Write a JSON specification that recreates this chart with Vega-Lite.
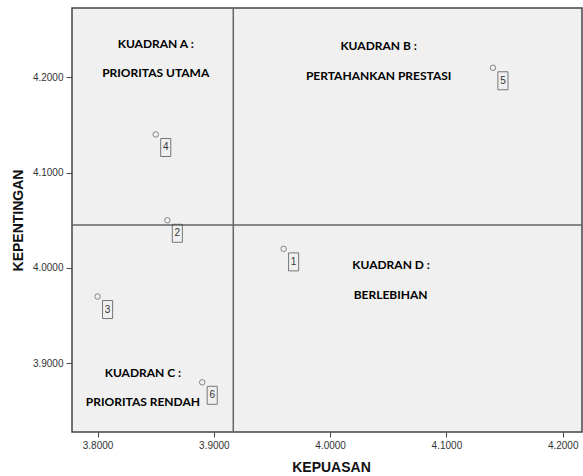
{
  "$schema": "https://vega.github.io/schema/vega-lite/v6.json",
  "width": 510,
  "height": 424,
  "autosize": {"type": "none"},
  "padding": {"left": 72, "top": 8, "right": 1, "bottom": 44},
  "background": "white",
  "config": {
    "view": {"fill": "#f0f0f0", "stroke": "#444", "strokeWidth": 1.5},
    "axis": {"grid": false, "domain": false, "labelFont": "Liberation Sans", "labelFontSize": 10, "labelColor": "#333", "tickColor": "#444", "titleFont": "Liberation Sans", "titleFontSize": 14, "titleFontWeight": "bold", "titleColor": "#111"}
  },
  "datasets": {
    "points": [
      {"id": "1", "kepuasan": 3.96, "kepentingan": 4.02},
      {"id": "2", "kepuasan": 3.86, "kepentingan": 4.05},
      {"id": "3", "kepuasan": 3.80, "kepentingan": 3.97},
      {"id": "4", "kepuasan": 3.85, "kepentingan": 4.14},
      {"id": "5", "kepuasan": 4.14, "kepentingan": 4.21},
      {"id": "6", "kepuasan": 3.89, "kepentingan": 3.88}
    ],
    "quadrants": [
      {"label": "KUADRAN A :", "x": 3.85, "y": 4.235},
      {"label": "PRIORITAS UTAMA", "x": 3.85, "y": 4.2045},
      {"label": "KUADRAN B :", "x": 4.0417, "y": 4.233},
      {"label": "PERTAHANKAN PRESTASI", "x": 4.0417, "y": 4.2017},
      {"label": "KUADRAN C :", "x": 3.839, "y": 3.8901},
      {"label": "PRIORITAS RENDAH", "x": 3.839, "y": 3.859},
      {"label": "KUADRAN D :", "x": 4.0524, "y": 4.003},
      {"label": "BERLEBIHAN", "x": 4.052, "y": 3.9717}
    ]
  },
  "layer": [
    {
      "data": {"values": [{"v": 3.9167}]},
      "mark": {"type": "rule", "color": "#666", "strokeWidth": 1.5},
      "encoding": {
        "x": {"field": "v", "type": "quantitative", "scale": {"domain": [3.778, 4.2166], "nice": false, "zero": false},
          "axis": {"title": "KEPUASAN", "values": [3.8, 3.9, 4.0, 4.1, 4.2], "format": ".4f", "tickSize": 5, "labelPadding": 3, "titleX": 259, "titleY": 35, "titleBaseline": "middle", "titleAlign": "center"}}
      }
    },
    {
      "data": {"values": [{"v": 4.045}]},
      "mark": {"type": "rule", "color": "#666", "strokeWidth": 1.5},
      "encoding": {
        "y": {"field": "v", "type": "quantitative", "scale": {"domain": [3.8279, 4.2727], "nice": false, "zero": false},
          "axis": {"title": "KEPENTINGAN", "values": [3.9, 4.0, 4.1, 4.2], "format": ".4f", "tickSize": 6, "labelPadding": 3, "titleX": -54, "titleY": 212, "titleAngle": -90, "titleBaseline": "middle", "titleAlign": "center"}}
      }
    },
    {
      "data": {"name": "points"},
      "mark": {"type": "point", "shape": "circle", "filled": false, "size": 30, "stroke": "#555", "strokeWidth": 1},
      "encoding": {
        "x": {"field": "kepuasan", "type": "quantitative"},
        "y": {"field": "kepentingan", "type": "quantitative"}
      }
    },
    {
      "data": {"name": "points"},
      "mark": {"type": "point", "shape": "M-0.56,-1H0.56V1H-0.56Z", "filled": false, "size": 324, "stroke": "#444", "strokeWidth": 1, "xOffset": 10, "yOffset": 13},
      "encoding": {
        "x": {"field": "kepuasan", "type": "quantitative"},
        "y": {"field": "kepentingan", "type": "quantitative"}
      }
    },
    {
      "data": {"name": "points"},
      "mark": {"type": "text", "font": "Liberation Sans", "fontSize": 10, "color": "#333", "xOffset": 10, "yOffset": 13, "baseline": "middle", "align": "center"},
      "encoding": {
        "x": {"field": "kepuasan", "type": "quantitative"},
        "y": {"field": "kepentingan", "type": "quantitative"},
        "text": {"field": "id"}
      }
    },
    {
      "data": {"name": "quadrants"},
      "mark": {"type": "text", "font": "Lato", "fontWeight": "bold", "fontSize": 12, "color": "#000", "baseline": "middle", "align": "center"},
      "encoding": {
        "x": {"field": "x", "type": "quantitative"},
        "y": {"field": "y", "type": "quantitative"},
        "text": {"field": "label"}
      }
    }
  ]
}
